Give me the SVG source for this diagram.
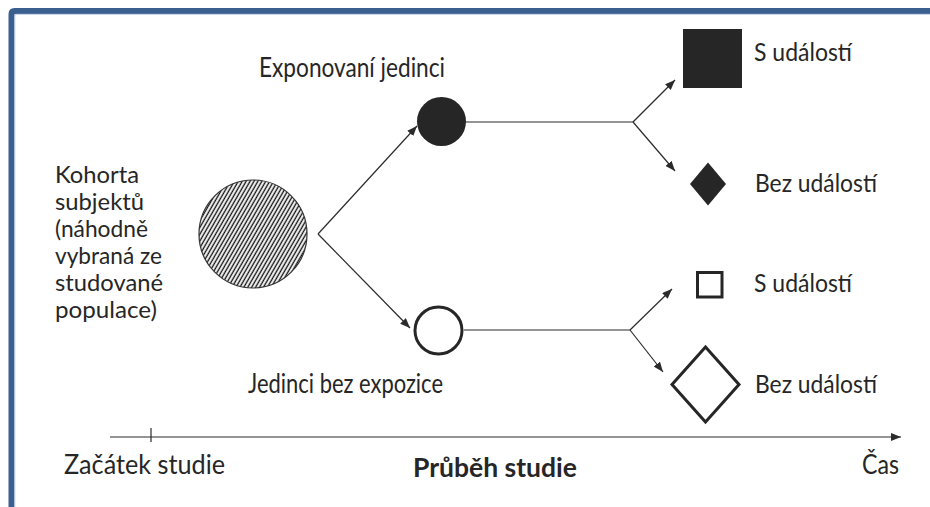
<svg xmlns="http://www.w3.org/2000/svg" width="930" height="507" viewBox="0 0 930 507">
<defs>
<style>
.t{font-family:Lato,"Open Sans","Liberation Sans",sans-serif;font-size:25px;fill:#262626}
.l{font-size:27px}
.s{font-size:22.5px}
.b{font-weight:bold}
.ln{stroke:#2b2b2b;stroke-width:1.2;fill:none}
.ar{marker-end:url(#ah)}
</style>
<marker id="ah" markerWidth="10" markerHeight="8" refX="10" refY="4" orient="auto" markerUnits="userSpaceOnUse">
<path d="M0,0 L10,4 L0,8 z" fill="#2b2b2b"/>
</marker>
<pattern id="hatch" width="3.4" height="10" patternUnits="userSpaceOnUse" patternTransform="rotate(30)">
<rect width="3.4" height="10" fill="#fff"/>
<line x1="1.2" y1="0" x2="1.2" y2="10" stroke="#111" stroke-width="1.4"/>
</pattern>
</defs>
<rect width="930" height="507" fill="#fff"/>
<g id="frame">
<path d="M11.5,507 V14 Q11.5,11 14.5,11 H930" fill="none" stroke="#3b5f8f" stroke-width="6"/>
<path d="M14.8,507 V16 Q14.8,14.3 16.5,14.3 H930" fill="none" stroke="#b9cbe0" stroke-width="1"/>
</g>
<g id="connectors">
<line class="ln ar" x1="318" y1="234" x2="417" y2="126"/>
<line class="ln ar" x1="318" y1="234" x2="410" y2="328"/>
<line class="ln" x1="466" y1="122" x2="633" y2="122"/>
<line class="ln ar" x1="633" y1="122" x2="675" y2="80"/>
<line class="ln ar" x1="633" y1="122" x2="675" y2="171"/>
<line class="ln" x1="464" y1="330" x2="630" y2="330"/>
<line class="ln ar" x1="630" y1="330" x2="672" y2="289"/>
<line class="ln ar" x1="630" y1="330" x2="663" y2="372"/>
</g>
<g id="axis">
<line class="ln ar" x1="110" y1="437" x2="901" y2="437"/>
<line class="ln" x1="151" y1="428" x2="151" y2="442"/>
</g>
<g id="cohort">
<circle cx="253" cy="234" r="54" fill="url(#hatch)" stroke="#333" stroke-width="1.2"/>
<text class="t s" x="55"><tspan x="55" y="183" textLength="84" lengthAdjust="spacingAndGlyphs">Kohorta</tspan><tspan x="55" y="210" textLength="89" lengthAdjust="spacingAndGlyphs">subjektů</tspan><tspan x="55" y="237" textLength="93" lengthAdjust="spacingAndGlyphs">(náhodně</tspan><tspan x="55" y="264" textLength="107" lengthAdjust="spacingAndGlyphs">vybraná ze</tspan><tspan x="55" y="291" textLength="108" lengthAdjust="spacingAndGlyphs">studované</tspan><tspan x="55" y="318" textLength="102" lengthAdjust="spacingAndGlyphs">populace)</tspan></text>
</g>
<g id="exposed">
<circle cx="441.5" cy="121.5" r="24.5" fill="#262626"/>
<text class="t l" x="259" y="77" textLength="186" lengthAdjust="spacingAndGlyphs">Exponovaní jedinci</text>
</g>
<g id="unexposed">
<circle cx="438.5" cy="330.5" r="23.5" fill="#fff" stroke="#262626" stroke-width="3"/>
<text class="t l" x="248" y="393" textLength="195" lengthAdjust="spacingAndGlyphs">Jedinci bez expozice</text>
</g>
<g id="exposed-event">
<rect x="683" y="29" width="59" height="59" fill="#262626"/>
<text class="t" x="754" y="61" textLength="98" lengthAdjust="spacingAndGlyphs">S událostí</text>
</g>
<g id="exposed-noevent">
<path d="M708,162.5 L726,184 L708,205.5 L690,184 z" fill="#262626"/>
<text class="t" x="755" y="192" textLength="122" lengthAdjust="spacingAndGlyphs">Bez událostí</text>
</g>
<g id="unexposed-event">
<rect x="697.5" y="272.5" width="24.5" height="24.5" fill="#fff" stroke="#262626" stroke-width="3"/>
<text class="t" x="754" y="292" textLength="98" lengthAdjust="spacingAndGlyphs">S událostí</text>
</g>
<g id="unexposed-noevent">
<path d="M705.5,347 L739,384.5 L705.5,422 L672,384.5 z" fill="#fff" stroke="#262626" stroke-width="3"/>
<text class="t" x="755" y="393" textLength="122" lengthAdjust="spacingAndGlyphs">Bez událostí</text>
</g>
<g id="labels">
<text class="t l" x="64" y="474" textLength="161" lengthAdjust="spacingAndGlyphs">Začátek studie</text>
<text class="t l b" x="413" y="477" textLength="164" lengthAdjust="spacingAndGlyphs">Průběh studie</text>
<text class="t l" x="862" y="474" textLength="37" lengthAdjust="spacingAndGlyphs">Čas</text>
</g>
</svg>
